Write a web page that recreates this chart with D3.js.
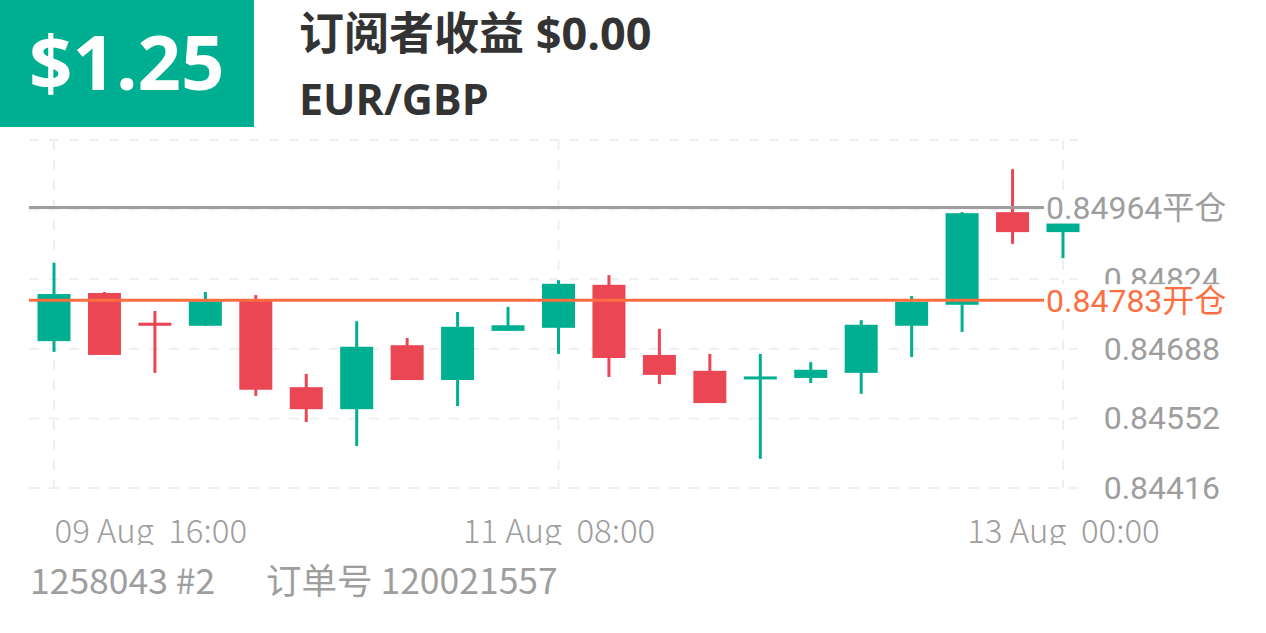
<!DOCTYPE html>
<html>
<head>
<meta charset="utf-8">
<script src="https://cdn.jsdelivr.net/npm/d3@7"></script>
<style>
  html, body { margin: 0; padding: 0; background: #fff; }
  svg { display: block; }
</style>
</head>
<body>
<svg id="chart" width="1266" height="633"></svg>
<script>
// ---- data ----
const categories = ["09 Aug 16:00","09 Aug 20:00","10 Aug 00:00","10 Aug 04:00","10 Aug 08:00","10 Aug 12:00","10 Aug 16:00","10 Aug 20:00","11 Aug 00:00","11 Aug 04:00","11 Aug 08:00","11 Aug 12:00","11 Aug 16:00","11 Aug 20:00","12 Aug 00:00","12 Aug 04:00","12 Aug 08:00","12 Aug 12:00","12 Aug 16:00","12 Aug 20:00","13 Aug 00:00"];
const openValues  = [0.84703,0.84797,0.84739,0.84733,0.84783,0.84613,0.84570,0.84695,0.84627,0.84723,0.84729,0.84813,0.84676,0.84645,0.84629,0.84631,0.84641,0.84733,0.84774,0.84955,0.84916];
const highValues  = [0.84856,0.84799,0.84762,0.84799,0.84793,0.84639,0.84742,0.84709,0.84760,0.84770,0.84822,0.84832,0.84727,0.84678,0.84678,0.84662,0.84744,0.84791,0.84955,0.85039,0.84938];
const lowValues   = [0.84682,0.84676,0.84641,0.84733,0.84596,0.84545,0.84498,0.84627,0.84576,0.84723,0.84678,0.84633,0.84619,0.84582,0.84473,0.84621,0.84600,0.84672,0.84721,0.84893,0.84865];
const closeValues = [0.84795,0.84676,0.84733,0.84781,0.84608,0.84570,0.84692,0.84627,0.84731,0.84734,0.84815,0.84670,0.84637,0.84582,0.84634,0.84647,0.84735,0.84780,0.84953,0.84916,0.84938];
const yTickValues = [0.84416,0.84552,0.84688,0.84824,0.84960,0.85096];
const yTickLabels = ["0.84416","0.84552","0.84688","0.84824","",""];
const xTickCategories = ["09 Aug 16:00","11 Aug 08:00","13 Aug 00:00"];
const xTickLabels = ["09 Aug  16:00","11 Aug  08:00","13 Aug  00:00"];
const closePrice = 0.84964, closeLabel = "0.84964平仓";
const openPrice = 0.84783, openLabel = "0.84783开仓";
const profitText = "$1.25";
const titleText = "订阅者收益 $0.00";
const symbolText = "EUR/GBP";
const footerLeft = "1258043 #2";
const footerRight = "订单号 120021557";

// ---- style ----
const GREEN = "#00af91", RED = "#eb4654", GRID = "#efefef", GRAY = "#9e9e9e", ORANGE = "#ff6e40";
const svg = d3.select("#chart");

// header
svg.append("rect").attr("x",0).attr("y",0).attr("width",254).attr("height",127).attr("fill",GREEN);
svg.append("text").attr("x",29).attr("y",90).attr("fill","#fff")
  .style("font-family","'Open Sans', sans-serif").style("font-weight",700).style("font-size","76px")
  .text(profitText);
svg.append("text").attr("x",299).attr("y",50).attr("fill","#333")
  .style("font-family","'Open Sans','Noto Sans CJK SC', sans-serif").style("font-weight",700).style("font-size","45px")
  .text(titleText);
svg.append("text").attr("x",299).attr("y",115).attr("fill","#333")
  .style("font-family","'Open Sans', sans-serif").style("font-weight",700).style("font-size","43px")
  .text(symbolText);

// scales
const x = d3.scalePoint().domain(categories).range([54, 1063]);
const y = d3.scaleLinear().domain([0.84416, 0.85096]).range([488, 140]);
const bodyW = 33;

// grid
const grid = svg.append("g");
grid.selectAll("line.h").data(yTickValues).join("line").attr("class","h")
  .attr("x1",29).attr("x2",1078).attr("y1",d=>y(d)).attr("y2",d=>y(d))
  .attr("stroke",GRID).attr("stroke-width",2).attr("stroke-dasharray","10,10");
grid.selectAll("line.v").data(xTickCategories).join("line").attr("class","v")
  .attr("x1",d=>x(d)).attr("x2",d=>x(d)).attr("y1",140).attr("y2",488)
  .attr("stroke",GRID).attr("stroke-width",2).attr("stroke-dasharray","10,10");

// candles
const candles = categories.map((c,i)=>({c, o:openValues[i], h:highValues[i], l:lowValues[i], cl:closeValues[i]}));
const cg = svg.append("g").selectAll("g").data(candles).join("g");
cg.append("line")
  .attr("x1",d=>x(d.c)).attr("x2",d=>x(d.c))
  .attr("y1",d=>y(d.h)).attr("y2",d=>y(d.l))
  .attr("stroke",d=>d.cl>=d.o?GREEN:RED).attr("stroke-width",3);
cg.append("rect")
  .attr("x",d=>x(d.c)-bodyW/2).attr("width",bodyW)
  .attr("y",d=>y(Math.max(d.o,d.cl)))
  .attr("height",d=>Math.max(3, Math.abs(y(d.o)-y(d.cl))))
  .attr("fill",d=>d.cl>=d.o?GREEN:RED);

// y tick labels
const yAxis = d3.axisRight(y).tickValues(yTickValues).tickSize(0).tickPadding(0)
  .tickFormat((d,i)=>yTickLabels[i]);
const ya = svg.append("g").attr("transform","translate(1220,0)").call(yAxis);
ya.select(".domain").remove();
ya.selectAll("text").attr("text-anchor","end").attr("fill",GRAY)
  .style("font-family","Roboto, sans-serif").style("font-size","32px");

// x tick labels (clipped at the bottom like the original)
const xa = svg.append("g").attr("transform","translate(0,488)");
xa.append("clipPath").attr("id","xclip").append("rect").attr("x",0).attr("y",0).attr("width",1266).attr("height",57);
const xAxis = d3.axisBottom(x).tickValues(xTickCategories).tickSize(0).tickPadding(0)
  .tickFormat((d,i)=>xTickLabels[i]);
const xag = xa.append("g").attr("clip-path","url(#xclip)").call(xAxis);
xag.select(".domain").remove();
xag.selectAll("text").attr("fill",GRAY).attr("dy",null).attr("y",55)
  .style("font-family","'Noto Sans CJK SC', sans-serif").style("font-size","33px").style("font-weight",300)
  .style("white-space","pre").attr("xml:space","preserve")
  .attr("text-anchor",(d,i)=>i===0?"start":"middle")
  .attr("x",0);

// reference lines
const refs = [{p:closePrice, t:closeLabel, c:GRAY},{p:openPrice, t:openLabel, c:ORANGE}];
const rg = svg.append("g").selectAll("g").data(refs).join("g");
rg.append("line").attr("x1",29).attr("x2",1044).attr("y1",d=>y(d.p)).attr("y2",d=>y(d.p))
  .attr("stroke",d=>d.c).attr("stroke-width",3);
rg.append("rect").attr("x",1044).attr("width",190).attr("y",d=>y(d.p)-16).attr("height",32).attr("fill","#fff");
rg.append("text").attr("x",1046).attr("y",d=>y(d.p)).attr("dy","0.36em").attr("fill",d=>d.c)
  .style("font-family","Roboto,'Noto Sans CJK SC', sans-serif").style("font-size","32px")
  .text(d=>d.t);

// footer
svg.append("text").attr("x",30).attr("y",594).attr("fill",GRAY)
  .style("font-family","'Noto Sans CJK SC', sans-serif").style("font-size","35.5px").text(footerLeft);
svg.append("text").attr("x",266).attr("y",594).attr("fill",GRAY)
  .style("font-family","'Noto Sans CJK SC', sans-serif").style("font-size","35.5px").text(footerRight);
</script>
</body>
</html>
